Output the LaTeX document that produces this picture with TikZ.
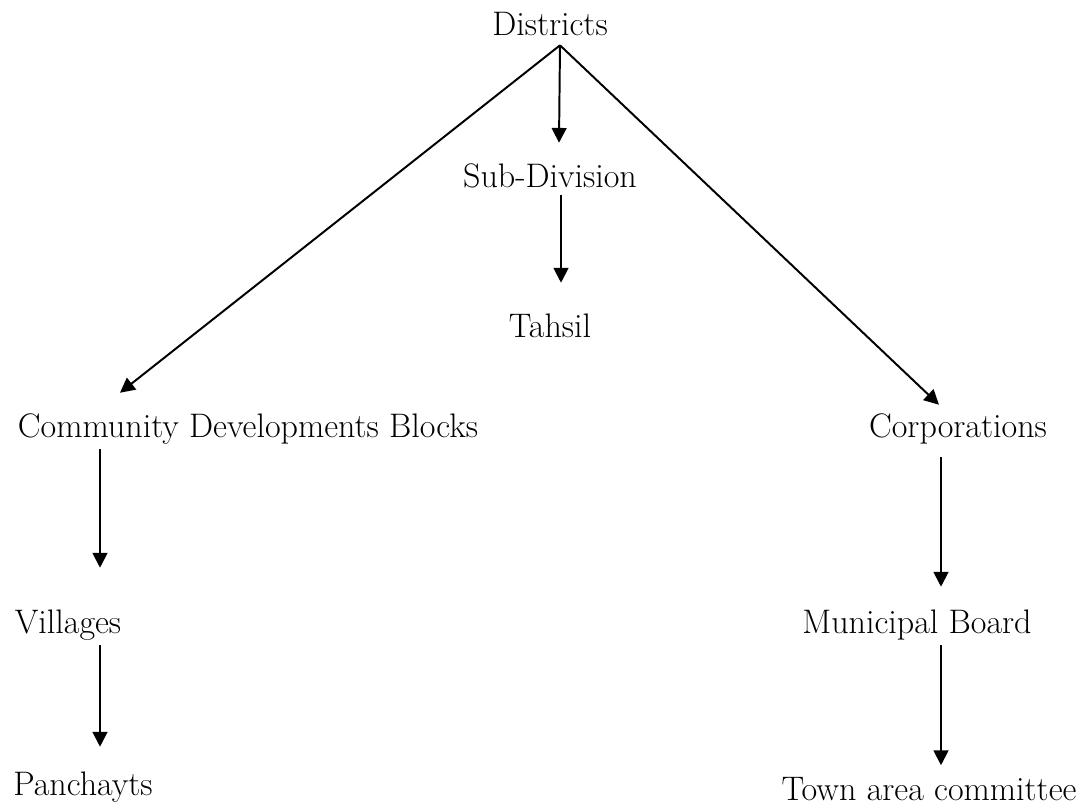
\documentclass[tikz,border=0pt]{standalone}
\usepackage{tikz}
\usetikzlibrary{arrows.meta, calc}
\tikzstyle{unit} = [anchor=base, inner sep=0pt, text height=16pt, text depth=5.7pt, font=\fontsize{24.2}{29}\selectfont]
\tikzstyle{arrow} = [line width=1.4pt, -{Triangle[length=10.5pt, width=10.5pt]}]

\begin{document}
\begin{tikzpicture}[x=0.025cm, y=-0.025cm]
    \useasboundingbox (0,0) rectangle (1088,811);

    % Top
    \node (dist) [unit] at (550,35) {Districts};
    \node (sub) [unit] at (550,187) {Sub-Division};
    \node (tahsil) [unit] at (550,337) {Tahsil};

    % Rural side
    \node (cdb) [unit] at (248,437) {Community Developments Blocks};
    \node (vil) [unit] at (68,633) {Villages};
    \node (pan) [unit] at (83,795) {Panchayts};

    % Urban side
    \node (corp) [unit] at (958,437) {Corporations};
    \node (mun) [unit] at (917,633) {Municipal Board};
    \node (town) [unit] at (929,800) {Town area committee};

    % Arrows
    \draw [arrow] ($(dist.south)+(10,2)$) -- ($(sub.north)+(9,-21.5)$);
    \draw [arrow] ($(sub.south)+(11,0)$) -- ($(tahsil.north)+(11,-31.5)$);
    \draw [arrow] ($(dist.south)+(10,2)$) -- ($(cdb.north)+(-128,-21.5)$);
    \draw [arrow] ($(dist.south)+(10,2)$) -- ($(corp.north)+(-19,-9.5)$);
    \draw [arrow] ($(cdb.south)+(-148,4)$) -- ($(vil.north)+(32,-42.5)$);
    \draw [arrow] ($(corp.south)+(-17,12)$) -- ($(mun.north)+(24,-23.5)$);
    \draw [arrow] ($(vil.south)+(32,4)$) -- ($(pan.north)+(17,-25.5)$);
    \draw [arrow] ($(mun.south)+(24,4)$) -- ($(town.north)+(12,-12)$);
\end{tikzpicture}
\end{document}
